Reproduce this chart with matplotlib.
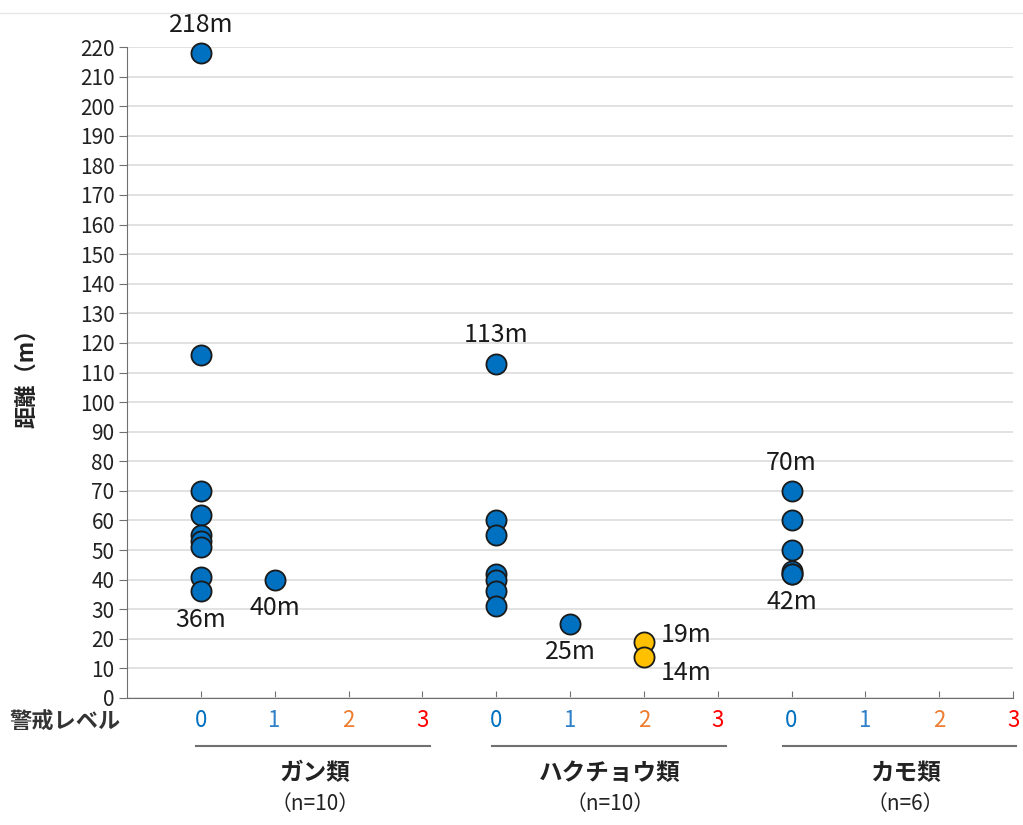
import numpy as np
import matplotlib
matplotlib.use('Agg')
import matplotlib.pyplot as plt
from matplotlib.lines import Line2D

plt.rcParams['font.family'] = ['Noto Sans CJK JP', 'DejaVu Sans']

# data: distance (m) per bird group and alert level
groups = ['ガン類', 'ハクチョウ類', 'カモ類']
group_n = ['（n=10）', '（n=10）', '（n=6）']
levels = [0, 1, 2, 3]
level_colors = ['#0070C0', '#2E80C8', '#ED7D31', '#FF0000']

goose = {0: [218, 116, 70, 62, 55, 53, 51, 41, 36], 1: [40]}
swan = {0: [113, 60, 55, 42, 40, 36, 31], 1: [25], 2: [19, 14]}
duck = {0: [70, 60, 50, 43, 42, 42]}
group_data = [goose, swan, duck]

# labels: (group, level, value, text, placement)
annotations = [
    (0, 0, 218, '218m', 'above'), (0, 0, 36, '36m', 'below'),
    (0, 1, 40, '40m', 'below'),
    (1, 0, 113, '113m', 'above'), (1, 1, 25, '25m', 'below'),
    (1, 2, 19, '19m', 'right'), (1, 2, 14, '14m', 'rightbelow'),
    (2, 0, 70, '70m', 'above'), (2, 0, 42, '42m', 'below'),
]

point_color = {0: '#0070C0', 1: '#0070C0', 2: '#FFC000', 3: '#FF0000'}

fig = plt.figure(figsize=(10.23, 8.25), dpi=100)
ax = fig.add_axes([127 / 1023, 1 - 698 / 825, (1013 - 127) / 1023, (698 - 47) / 825])

for g, data in enumerate(group_data):
    for lv, vals in data.items():
        x = np.full(len(vals), g * 4 + lv)
        ax.plot(x, vals, 'o', ms=14.5, mfc=point_color[lv], mec='#1a1a1a', mew=1.3,
                zorder=3, clip_on=False)

# offsets in points: dx, dy, ha, va
offsets = {'above': (0, 11, 'center', 'bottom'), 'below': (0, -11, 'center', 'top'),
           'right': (12, 5, 'left', 'center'), 'rightbelow': (12, -12, 'left', 'center')}
for g, lv, v, txt, pos in annotations:
    dx, dy, ha, va = offsets[pos]
    ax.annotate(txt, (g * 4 + lv, v), xytext=(dx, dy), textcoords='offset points',
                ha=ha, va=va, fontsize=18, color='#1a1a1a')

ax.set_xlim(-1, 11)
ax.set_ylim(0, 220)
ax.set_yticks(np.arange(0, 221, 10))
ax.yaxis.grid(True, color='#dddddd', lw=1.2)
ax.set_axisbelow(True)
for s in ['top', 'right']:
    ax.spines[s].set_visible(False)
ax.spines['left'].set_color('#707070')
ax.spines['bottom'].set_color('#707070')
ax.tick_params(axis='y', direction='out', length=6, color='#707070', labelsize=15,
               labelcolor='#222222', pad=3)
ax.tick_params(axis='x', direction='in', length=5, color='#707070', labelsize=16, pad=8)

xt = np.arange(0, 12)
ax.set_xticks(xt)
ax.set_xticklabels([str(levels[i % 4]) for i in xt])
for i, lab in enumerate(ax.get_xticklabels()):
    lab.set_color(level_colors[i % 4])

ax.set_ylabel('距離（m）', fontsize=16, fontweight='bold', color='#222222')
ax.yaxis.set_label_coords(-0.1, 0.5)

fig.text(10 / 1023, 1 - 722 / 825, '警戒レベル', fontsize=16, fontweight='bold',
         ha='left', va='center', color='#333333')

bracket_x = [(196, 430), (492, 726), (783, 1016)]
name_x = [315, 610, 905]
for (x0, x1), cx, name, n in zip(bracket_x, name_x, groups, group_n):
    fig.add_artist(Line2D([x0 / 1023, x1 / 1023], [1 - 746 / 825] * 2, color='#707070', lw=1.5))
    fig.text(cx / 1023, 1 - 773 / 825, name, fontsize=17, fontweight='bold',
             ha='center', va='center', color='#222222')
    fig.text(cx / 1023, 1 - 804 / 825, n, fontsize=15, ha='center', va='center',
             color='#222222')

fig.add_artist(Line2D([0, 1], [1 - 13 / 825] * 2, color='#e6e6e6', lw=1))

fig.savefig('out.png', dpi=100, facecolor='white')
